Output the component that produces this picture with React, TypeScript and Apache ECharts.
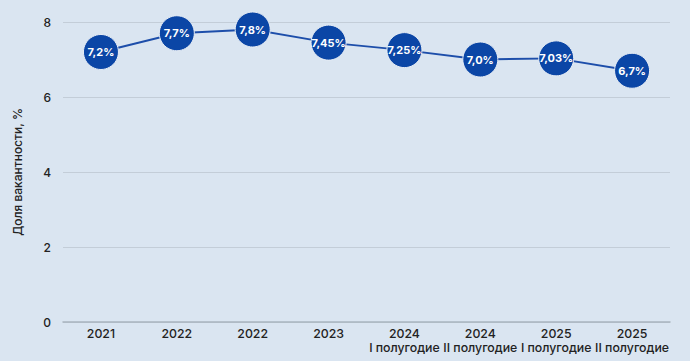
import React, { useEffect, useRef } from "react";
import * as echarts from "echarts";

const categories = [
  "2021",
  "2022",
  "2022",
  "2023",
  "2024\nI полугодие",
  "2024\nII полугодие",
  "2025\nI полугодие",
  "2025\nII полугодие",
];
const values = [7.2, 7.7, 7.8, 7.45, 7.25, 7.0, 7.03, 6.7];
const valueLabels = ["7,2%", "7,7%", "7,8%", "7,45%", "7,25%", "7,0%", "7,03%", "6,7%"];
const yTicks = [0, 2, 4, 6, 8];

const FONT = "Inter, 'Noto Sans', sans-serif";

export default function App() {
  const ref = useRef<HTMLDivElement>(null);
  useEffect(() => {
    if (!ref.current) return;
    const chart = echarts.init(ref.current, null, { renderer: "svg" });
    chart.setOption({
      animation: false,
      backgroundColor: "#dae5f1",
      grid: { left: 63, right: 20, top: 22, bottom: 39 },
      xAxis: {
        type: "category",
        data: categories,
        axisTick: { show: false },
        axisLine: { lineStyle: { color: "#a9b4bf", width: 1.5 } },
        axisLabel: {
          color: "#222",
          fontFamily: FONT,
          fontSize: 12.3,
          fontWeight: 500,
          lineHeight: 13.5,
          margin: 5,
          interval: 0,
        },
      },
      yAxis: {
        type: "value",
        min: yTicks[0],
        max: yTicks[yTicks.length - 1],
        interval: 2,
        name: "Доля вакантности, %",
        nameLocation: "middle",
        nameGap: 40,
        nameRotate: 90,
        nameTextStyle: { color: "#222", fontFamily: FONT, fontSize: 12, fontWeight: 500 },
        axisLabel: { color: "#222", fontFamily: FONT, fontSize: 12, fontWeight: 500, margin: 12 },
        splitLine: { lineStyle: { color: "#c3cdd8", width: 1.2 } },
        axisLine: { show: false },
        axisTick: { show: false },
      },
      series: [
        {
          type: "line",
          data: values,
          symbol: "circle",
          symbolSize: 35,
          lineStyle: { color: "#1d4eaa", width: 2 },
          itemStyle: { color: "#0b46a6", borderColor: "#e8eef6", borderWidth: 1 },
          label: {
            show: true,
            position: "inside",
            color: "#fff",
            fontFamily: FONT,
            fontSize: 11,
            fontWeight: "bold",
            formatter: (p: any) => valueLabels[p.dataIndex],
          },
          z: 3,
        },
      ],
    });
    return () => chart.dispose();
  }, []);
  return (
    <div
      ref={ref}
      style={{ position: "absolute", left: 0, top: 0, width: 690, height: 361 }}
    />
  );
}
